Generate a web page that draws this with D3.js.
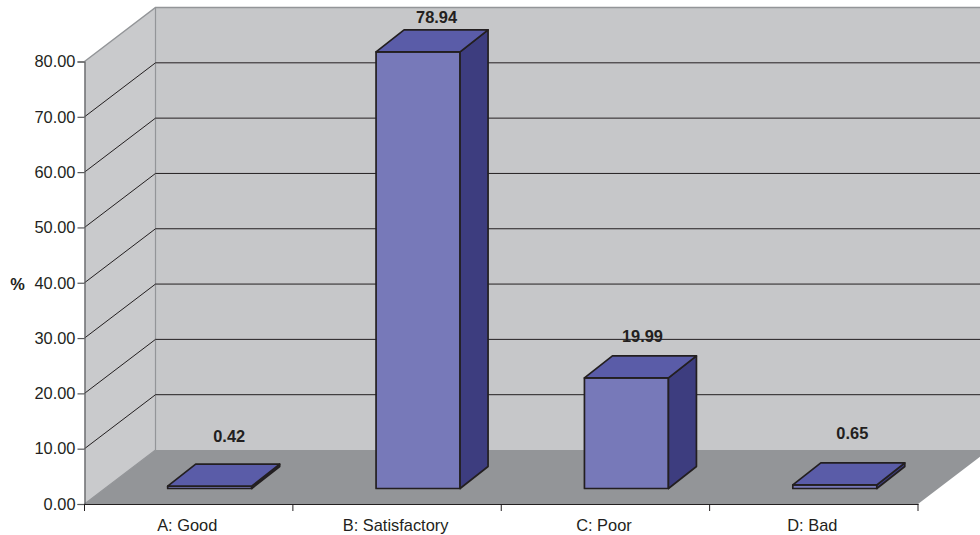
<!DOCTYPE html>
<html lang="en">
  <head>
    <script src="https://d3js.org/d3.v7.min.js"></script>
    <meta charset="utf-8"/>
    <title>3D bars</title>
    <style>
      html, body { margin: 0; padding: 0; background: #fff; }
      svg { display: block; }
      text { font-family: "Liberation Sans", Arial, sans-serif; fill: #231f20; }
    </style>
  </head>
  <body>
    <svg id="chart"></svg>
  </body>

  <script>
    const categories = ["A: Good", "B: Satisfactory", "C: Poor", "D: Bad"];
    const values = [0.42, 78.94, 19.99, 0.65];
    const yTicks = [0, 10, 20, 30, 40, 50, 60, 70, 80];

    // nudges for the value labels, they don't sit at a constant distance in the original
    const labelLift = [22, 7, 14, 24];
    const labelShift = [5.5, 4.5, 2, 3.5];

    const width = 980, height = 535;
    const fontSize = "16.4px";
    const plotLeft = 84.5, plotRight = 918, plotBottom = 504, plotTop = 61.5;
    const wallDx = 71, wallDy = -54;   // depth of the chart box
    const barDx = 28, barDy = -22;     // depth of one bar
    const barInDx = 21, barInDy = -15.5; // where the bars stand on the floor

    const svg = d3.select("#chart")
      .attr("width", width)
      .attr("height", height);

    const x = d3.scaleBand().domain(categories).range([plotLeft, plotRight]);
    const y = d3.scaleLinear().domain([0, 80]).range([plotBottom, plotTop]);

    const poly = (pts) => "M" + pts.map((p) => p.join(",")).join("L") + "Z";

    // walls and floor
    const wallTop = y(80) + wallDy, wallBottom = y(0) + wallDy;
    svg.append("path")
      .attr("d", poly([[plotLeft + wallDx, wallTop], [plotRight + wallDx, wallTop], [plotRight + wallDx, wallBottom], [plotLeft + wallDx, wallBottom]]))
      .attr("fill", "#c6c7c9");
    svg.append("path")
      .attr("d", poly([[plotLeft, y(80)], [plotLeft + wallDx, wallTop], [plotLeft + wallDx, wallBottom], [plotLeft, y(0)]]))
      .attr("fill", "#c9cacc");
    svg.append("path")
      .attr("d", poly([[plotLeft, y(0)], [plotLeft + wallDx, wallBottom], [plotRight + wallDx, wallBottom], [plotRight, y(0)]]))
      .attr("fill", "#939598");

    // wall outlines
    svg.append("path")
      .attr("d", `M${plotLeft},${y(80)}L${plotLeft + wallDx},${wallTop}L${width},${wallTop}`)
      .attr("fill", "none").attr("stroke", "#939598").attr("stroke-width", 1.5);
    svg.append("path")
      .attr("d", `M${plotLeft},${y(0)}L${plotLeft + wallDx},${wallBottom}L${plotLeft + wallDx},${wallTop}`)
      .attr("fill", "none").attr("stroke", "#939598").attr("stroke-width", 1.2);

    // gridlines
    svg.append("g")
      .selectAll("path")
      .data(yTicks.filter((d) => d > 0 && d < 80))
      .enter()
      .append("path")
        .attr("d", (d) => `M${plotLeft},${y(d)}L${plotLeft + wallDx},${y(d) + wallDy}L${plotRight + wallDx},${y(d) + wallDy}`)
        .attr("fill", "none")
        .attr("stroke", "#231f20")
        .attr("stroke-width", 1);

    // bars
    const bars = svg.append("g")
      .selectAll("g")
      .data(values)
      .enter()
      .append("g")
        .attr("stroke", "#231f20")
        .attr("stroke-width", 1.7)
        .attr("stroke-linejoin", "round");

    const barWidth = 84;
    const x0 = (i) => x(categories[i]) + (x.bandwidth() - barWidth) / 2 + barInDx;
    const yBase = y(0) + barInDy;
    const yTop = (d) => y(d) + barInDy;

    bars.append("path")
      .attr("fill", "#7779b9")
      .attr("d", (d, i) => poly([[x0(i), yTop(d)], [x0(i) + barWidth, yTop(d)], [x0(i) + barWidth, yBase], [x0(i), yBase]]));
    bars.append("path")
      .attr("fill", "#3d3d7f")
      .attr("d", (d, i) => poly([[x0(i) + barWidth, yTop(d)], [x0(i) + barWidth + barDx, yTop(d) + barDy], [x0(i) + barWidth + barDx, yBase + barDy], [x0(i) + barWidth, yBase]]));
    bars.append("path")
      .attr("fill", "#5a5ca8")
      .attr("d", (d, i) => poly([[x0(i), yTop(d)], [x0(i) + barDx, yTop(d) + barDy], [x0(i) + barWidth + barDx, yTop(d) + barDy], [x0(i) + barWidth, yTop(d)]]));

    svg.append("g")
      .selectAll("text")
      .data(values)
      .enter()
      .append("text")
        .attr("x", (d, i) => x0(i) + (barWidth + barDx) / 2 + labelShift[i])
        .attr("y", (d, i) => yTop(d) + barDy - labelLift[i])
        .attr("text-anchor", "middle")
        .style("font-size", fontSize)
        .style("font-weight", "bold")
        .text((d) => d3.format(".2f")(d));

    // axes
    const yAxis = svg.append("g")
      .attr("transform", "translate(" + plotLeft + ",0)")
      .call(d3.axisLeft(y).tickValues(yTicks).tickFormat(d3.format(".2f")).tickSize(7).tickPadding(2));
    yAxis.selectAll("path, line").attr("stroke", "#58595b").attr("stroke-width", 1.2);
    yAxis.selectAll("text").style("font-size", fontSize).style("font-family", '"Liberation Sans", Arial, sans-serif');

    const xAxis = svg.append("g")
      .attr("transform", "translate(0," + plotBottom + ")")
      .call(d3.axisBottom(x).tickSize(0).tickPadding(15.5));
    xAxis.select(".domain").attr("stroke", "#231f20").attr("stroke-width", 1.2);
    xAxis.selectAll("text").attr("dx", -1.5).style("font-size", fontSize).style("font-family", '"Liberation Sans", Arial, sans-serif');

    xAxis.selectAll(".sep")
      .data(d3.range(categories.length + 1))
      .enter()
      .append("line")
        .attr("class", "sep")
        .attr("x1", (i) => plotLeft + i * x.step())
        .attr("x2", (i) => plotLeft + i * x.step())
        .attr("y1", 0)
        .attr("y2", 7)
        .attr("stroke", "#231f20");

    svg.append("text")
      .attr("x", 17.5)
      .attr("y", 289.5)
      .attr("text-anchor", "middle")
      .style("font-size", fontSize)
      .style("font-weight", "bold")
      .text("%");
  </script>
</html>
